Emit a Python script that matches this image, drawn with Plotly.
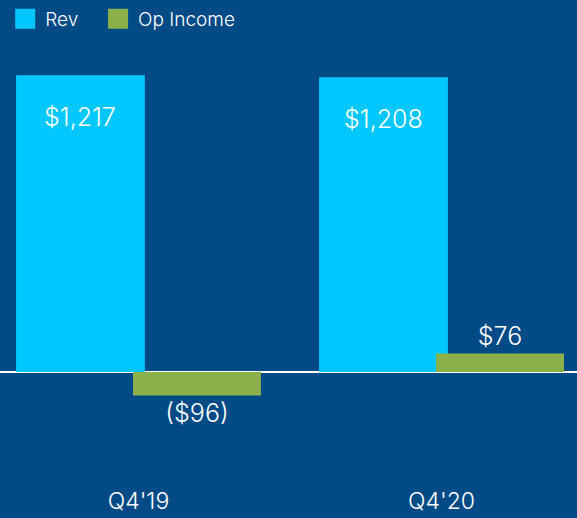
import plotly.graph_objects as go

quarters = ["Q4'19", "Q4'20"]
rev = [1217, 1208]
op_income = [-96, 76]
rev_labels = ["$1,217", "$1,208"]
op_labels = ["($96)", "$76"]

BG = "#004A86"
CYAN = "#00C7FF"
GREEN = "#8DB14A"
FONT = "Inter"

fig = go.Figure()

# bars overlap a little, so place them by hand with offset/width
fig.add_trace(go.Bar(
    x=quarters, y=rev, marker=dict(color=CYAN, line_width=0),
    offset=-0.404, width=0.425, showlegend=False, hoverinfo="skip",
))
fig.add_trace(go.Bar(
    x=quarters, y=op_income, marker=dict(color=GREEN, line_width=0),
    offset=-0.018, width=0.422, showlegend=False, hoverinfo="skip",
    text=op_labels, textposition="outside", cliponaxis=False,
    textfont=dict(color="white", size=25, family=FONT, weight=300),
))

# legend-only traces so the squares can be bigger than the bar icon,
# one legend each so the spacing between them can be set
for name, col, lg in [("Rev", CYAN, "legend"), ("Op Income", GREEN, "legend2")]:
    fig.add_trace(go.Scatter(
        x=[None], y=[None], mode="markers", name=name, legend=lg,
        marker=dict(symbol="square", size=16, color=col, line=dict(color=col, width=4)),
    ))

# revenue labels sit inside the bar, a bit below the top
for i, (v, lab) in enumerate(zip(rev, rev_labels)):
    fig.add_annotation(
        x=i - 0.1915, y=v, xref="x", yref="y", text=lab, showarrow=False,
        yanchor="middle", yshift=-42,
        font=dict(color="white", size=25, family=FONT, weight=300),
    )

legend_style = dict(
    orientation="h", xanchor="left", yref="container", y=1.0, yanchor="top",
    font=dict(size=19, color="white", family=FONT, weight=300),
    bgcolor="rgba(0,0,0,0)",
)

fig.update_layout(
    width=577, height=518,
    paper_bgcolor=BG, plot_bgcolor=BG,
    barmode="overlay",
    margin=dict(l=0, r=0, t=40, b=43),
    font=dict(family=FONT, color="white", weight=300),
    showlegend=True,
    legend=dict(x=0.009, **legend_style),
    legend2=dict(x=0.170, **legend_style),
    xaxis=dict(
        range=[-0.457, 1.447], showgrid=False, zeroline=False, showline=False,
        ticks="", ticklabelstandoff=10,
        tickfont=dict(size=23, color="white", family=FONT, weight=300),
    ),
    yaxis=dict(
        range=[-422, 1361], showgrid=False, showticklabels=False,
        zeroline=True, zerolinecolor="white", zerolinewidth=2, showline=False,
    ),
)

fig.write_html("out.html", config={"displayModeBar": False},
               post_script="document.body.style.margin='0';")
